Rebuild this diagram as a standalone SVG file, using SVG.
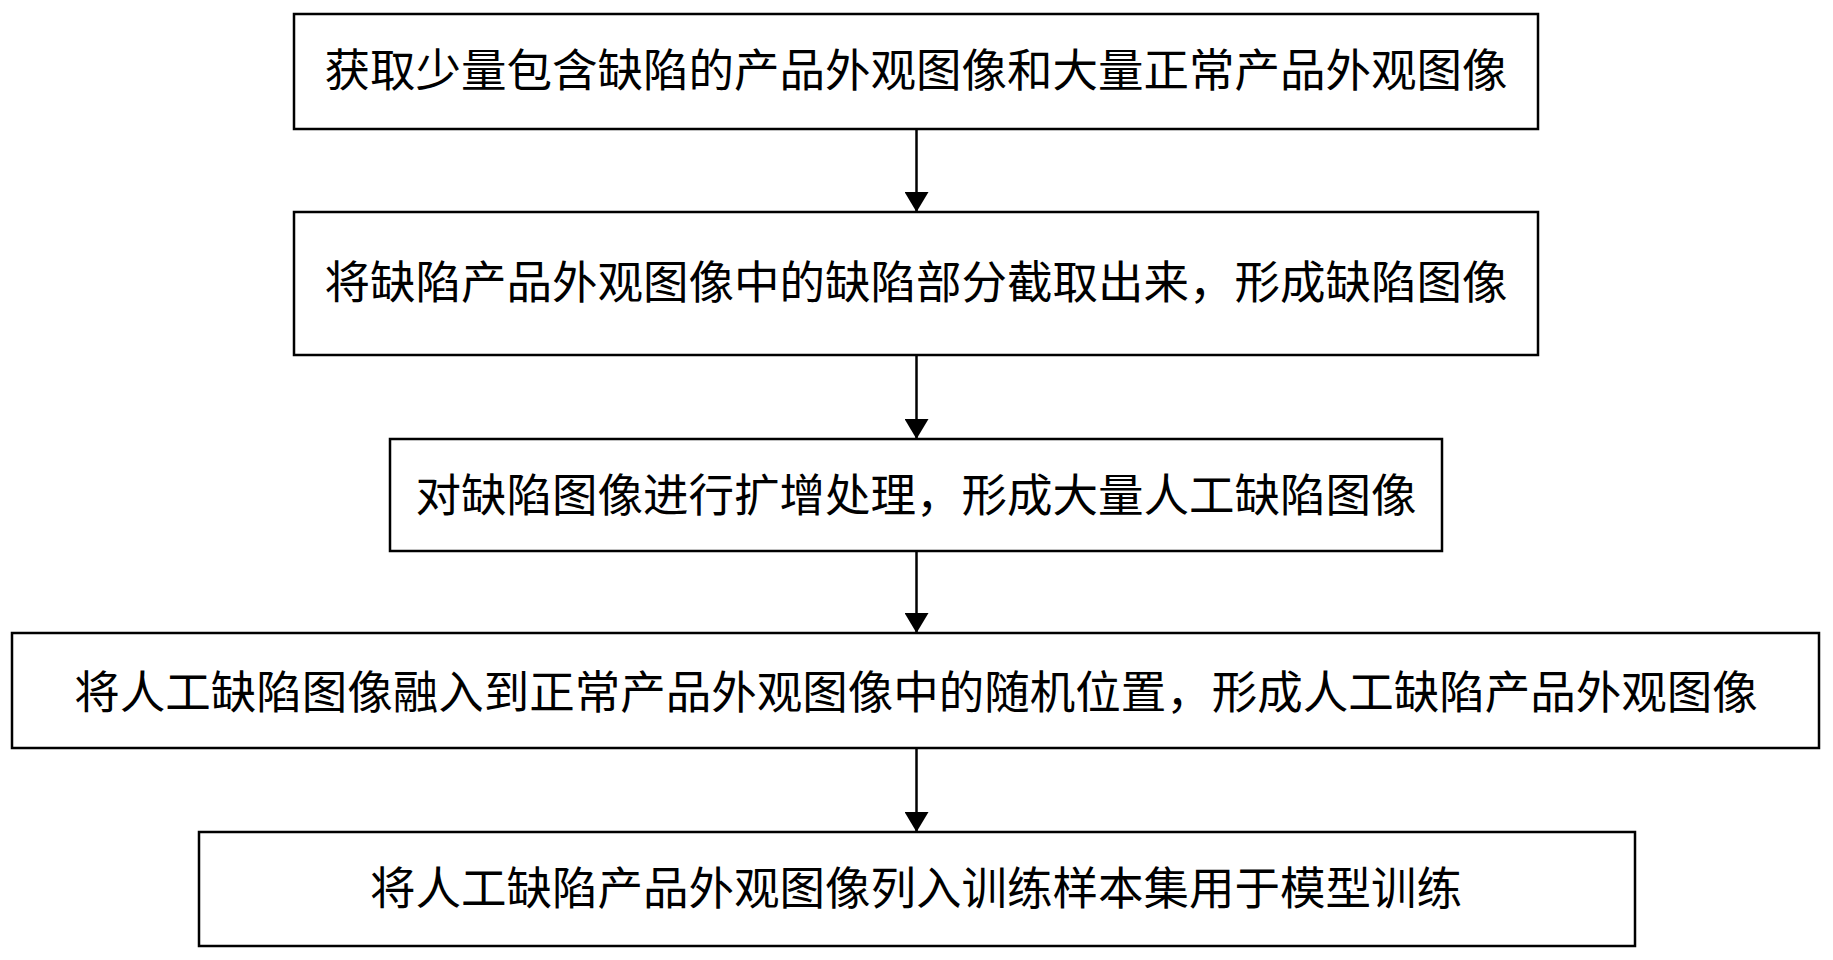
<svg xmlns="http://www.w3.org/2000/svg" width="1833" height="960" viewBox="0 0 1833 960">
<style>
rect{fill:#fff;stroke:#000;stroke-width:2.5}
text{font-family:"Noto Sans CJK SC",sans-serif;font-size:45.5px;text-anchor:middle;dominant-baseline:central;fill:#000}
line{stroke:#000;stroke-width:2.5}
</style>
<defs><marker id="b" viewBox="0 0 24 24" refX="24" refY="12" markerWidth="20" markerHeight="24" markerUnits="userSpaceOnUse" orient="auto" preserveAspectRatio="none"><path d="M0,0L24,12L0,24z"/></marker></defs>
<rect width="1833" height="960" style="stroke:none"/>
<g id="n1"><rect x="294" y="14" width="1244" height="115"/><text x="916" y="67">获取少量包含缺陷的产品外观图像和大量正常产品外观图像</text></g>
<g id="n2"><rect x="294" y="212" width="1244" height="143"/><text x="916" y="279">将缺陷产品外观图像中的缺陷部分截取出来，形成缺陷图像</text></g>
<g id="n3"><rect x="390" y="439" width="1052" height="112"/><text x="916" y="492">对缺陷图像进行扩增处理，形成大量人工缺陷图像</text></g>
<g id="n4"><rect x="12" y="633" width="1807" height="115"/><text x="916" y="689">将人工缺陷图像融入到正常产品外观图像中的随机位置，形成人工缺陷产品外观图像</text></g>
<g id="n5"><rect x="199" y="832" width="1436" height="114"/><text x="916" y="885">将人工缺陷产品外观图像列入训练样本集用于模型训练</text></g>
<g id="edges">
<line x1="916.5" y1="129" x2="916.5" y2="212" marker-end="url(#b)"/>
<line x1="916.5" y1="355" x2="916.5" y2="439" marker-end="url(#b)"/>
<line x1="916.5" y1="551" x2="916.5" y2="633" marker-end="url(#b)"/>
<line x1="916.5" y1="748" x2="916.5" y2="832" marker-end="url(#b)"/>
</g>
</svg>
